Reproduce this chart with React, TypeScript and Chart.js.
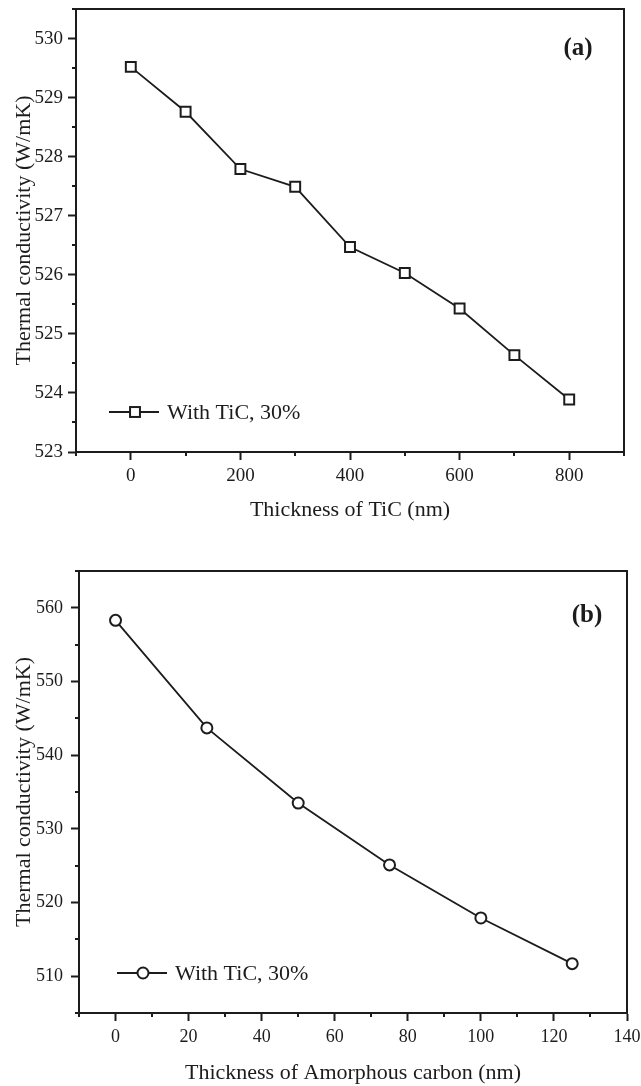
import React, { useEffect, useRef } from "react";
import { Chart, registerables } from "chart.js";

Chart.register(...registerables);

// ---------- data ----------
const thicknessTiC = [0, 100, 200, 300, 400, 500, 600, 700, 800];
const conductivityTiC = [529.52, 528.76, 527.79, 527.49, 526.47, 526.03, 525.43, 524.64, 523.89];

const thicknessCarbon = [0, 25, 50, 75, 100, 125];
const conductivityCarbon = [558.3, 543.7, 533.5, 525.1, 517.9, 511.7];

const xTicksA = [0, 200, 400, 600, 800];
const xMinorA = [-100, 100, 300, 500, 700, 900];
const yTicksA = [523, 524, 525, 526, 527, 528, 529, 530];
const yMinorA = [523.5, 524.5, 525.5, 526.5, 527.5, 528.5, 529.5, 530.5];

const xTicksB = [0, 20, 40, 60, 80, 100, 120, 140];
const xMinorB = [-10, 10, 30, 50, 70, 90, 110, 130];
const yTicksB = [510, 520, 530, 540, 550, 560];
const yMinorB = [505, 515, 525, 535, 545, 555, 565];

const seriesLabel = "With TiC, 30%";
const yTitle = "Thermal conductivity (W/mK)";
const xTitleA = "Thickness of TiC (nm)";
const xTitleB = "Thickness of Amorphous carbon (nm)";
const panelLabelA = "(a)";
const panelLabelB = "(b)";

// ---------- styles ----------
const INK = "#1c1c1c";
const FONT = "'Liberation Serif', 'Times New Roman', serif";

type PanelCfg = {
  width: number;
  height: number;
  xs: number[];
  ys: number[];
  xMin: number;
  xMax: number;
  yMin: number;
  yMax: number;
  xTicks: number[];
  xMinor: number[];
  yTicks: number[];
  yMinor: number[];
  xTitle: string;
  panelLabel: string;
  pointStyle: string;
  pointRadius: number;
  padTop: number;
  padRight: number;
  yAxisW: number;
  xAxisH: number;
  xTitlePad: number;
  yTickPad: number;
  tickFont: number;
  legend: { x: number; y: number };
  labelPos: { x: number; y: number };
};

const decorPlugin = {
  id: "decor",
  afterDraw(chart: any) {
    const cfg: PanelCfg = chart.options.plugins.decor.cfg;
    const { ctx, chartArea } = chart;
    const xs = chart.scales.x;
    const ys = chart.scales.y;
    ctx.save();
    // frame
    ctx.strokeStyle = INK;
    ctx.lineWidth = 2;
    ctx.strokeRect(chartArea.left, chartArea.top, chartArea.right - chartArea.left, chartArea.bottom - chartArea.top);
    // minor ticks
    ctx.lineWidth = 2;
    ctx.beginPath();
    cfg.xMinor.forEach((v) => {
      const px = Math.round(xs.getPixelForValue(v));
      ctx.moveTo(px, chartArea.bottom);
      ctx.lineTo(px, chartArea.bottom + 4);
    });
    cfg.yMinor.forEach((v) => {
      const py = Math.round(ys.getPixelForValue(v));
      ctx.moveTo(chartArea.left, py);
      ctx.lineTo(chartArea.left - 4, py);
    });
    ctx.stroke();

    // legend
    const lx = cfg.legend.x;
    const ly = cfg.legend.y;
    ctx.lineWidth = 1.8;
    ctx.beginPath();
    ctx.moveTo(lx, ly);
    ctx.lineTo(lx + 50, ly);
    ctx.stroke();
    ctx.fillStyle = "#ffffff";
    ctx.lineWidth = 2;
    const cx = lx + 26;
    if (cfg.pointStyle === "rect") {
      const s = cfg.pointRadius * Math.SQRT1_2;
      ctx.fillRect(cx - s, ly - s, 2 * s, 2 * s);
      ctx.strokeRect(cx - s, ly - s, 2 * s, 2 * s);
    } else {
      ctx.beginPath();
      ctx.arc(cx, ly, cfg.pointRadius, 0, Math.PI * 2);
      ctx.fill();
      ctx.stroke();
    }
    ctx.fillStyle = INK;
    ctx.font = `22px ${FONT}`;
    ctx.textBaseline = "middle";
    ctx.textAlign = "left";
    ctx.fillText(seriesLabel, lx + 58, ly + 1);

    // panel label
    ctx.font = `bold 25px ${FONT}`;
    ctx.textAlign = "center";
    ctx.fillText(cfg.panelLabel, cfg.labelPos.x, cfg.labelPos.y);
    ctx.restore();
  },
};

function makeConfig(p: PanelCfg): any {
  return {
    type: "line",
    data: {
      datasets: [
        {
          label: seriesLabel,
          data: p.xs.map((x, i) => ({ x, y: p.ys[i] })),
          borderColor: INK,
          borderWidth: 1.8,
          pointStyle: p.pointStyle,
          pointRadius: p.pointRadius,
          pointBorderWidth: 2,
          pointBackgroundColor: "#ffffff",
          pointBorderColor: INK,
          tension: 0,
          fill: false,
        },
      ],
    },
    options: {
      animation: false,
      responsive: false,
      maintainAspectRatio: false,
      layout: { padding: { top: p.padTop, right: p.padRight, left: 0, bottom: 0 } },
      plugins: {
        legend: { display: false },
        tooltip: { enabled: false },
        decor: { cfg: p },
      },
      scales: {
        x: {
          type: "linear",
          min: p.xMin,
          max: p.xMax,
          afterBuildTicks: (s: any) => {
            s.ticks = p.xTicks.map((v) => ({ value: v }));
          },
          afterFit: (s: any) => {
            s.height = p.xAxisH;
            s.paddingLeft = 0;
            s.paddingRight = 0;
            s.paddingTop = 0;
            s.paddingBottom = 0;
          },
          grid: { drawOnChartArea: false, drawTicks: true, tickLength: 8, tickWidth: 2, tickColor: INK },
          border: { display: true, color: INK, width: 2 },
          ticks: { color: INK, font: { family: FONT, size: p.tickFont }, padding: 5, maxRotation: 0, autoSkip: false },
          title: {
            display: true,
            text: p.xTitle,
            color: INK,
            font: { family: FONT, size: 22 },
            padding: { top: 0, bottom: p.xTitlePad },
          },
        },
        y: {
          type: "linear",
          min: p.yMin,
          max: p.yMax,
          afterBuildTicks: (s: any) => {
            s.ticks = p.yTicks.map((v) => ({ value: v }));
          },
          afterFit: (s: any) => {
            s.width = p.yAxisW;
            s.paddingLeft = 0;
            s.paddingRight = 0;
            s.paddingTop = 0;
            s.paddingBottom = 0;
          },
          grid: { drawOnChartArea: false, drawTicks: true, tickLength: 8, tickWidth: 2, tickColor: INK },
          border: { display: true, color: INK, width: 2 },
          ticks: { color: INK, font: { family: FONT, size: p.tickFont }, padding: p.yTickPad, autoSkip: false },
          title: {
            display: true,
            text: yTitle,
            color: INK,
            font: { family: FONT, size: 22 },
            padding: { top: 11, bottom: 0 },
          },
        },
      },
    },
    plugins: [decorPlugin],
  };
}

const panelA: PanelCfg = {
  width: 641,
  height: 540,
  xs: thicknessTiC,
  ys: conductivityTiC,
  xMin: -100,
  xMax: 900,
  yMin: 523,
  yMax: 530.5,
  xTicks: xTicksA,
  xMinor: xMinorA,
  yTicks: yTicksA,
  yMinor: yMinorA,
  xTitle: xTitleA,
  panelLabel: panelLabelA,
  pointStyle: "rect",
  pointRadius: 7,
  padTop: 8,
  padRight: 17,
  yAxisW: 76,
  xAxisH: 88,
  xTitlePad: 17,
  yTickPad: 5,
  tickFont: 19,
  legend: { x: 109, y: 412 },
  labelPos: { x: 578, y: 49 },
};

const panelB: PanelCfg = {
  width: 641,
  height: 546,
  xs: thicknessCarbon,
  ys: conductivityCarbon,
  xMin: -10,
  xMax: 140,
  yMin: 505,
  yMax: 565,
  xTicks: xTicksB,
  xMinor: xMinorB,
  yTicks: yTicksB,
  yMinor: yMinorB,
  xTitle: xTitleB,
  panelLabel: panelLabelB,
  pointStyle: "circle",
  pointRadius: 5.5,
  padTop: 31,
  padRight: 14,
  yAxisW: 79,
  xAxisH: 73,
  xTitlePad: 0,
  yTickPad: 8,
  tickFont: 18,
  legend: { x: 117, y: 433 },
  labelPos: { x: 587, y: 76 },
};

function Panel({ cfg, top }: { cfg: PanelCfg; top: number }) {
  const ref = useRef<HTMLCanvasElement | null>(null);
  useEffect(() => {
    if (!ref.current) return;
    const chart = new Chart(ref.current, makeConfig(cfg));
    return () => chart.destroy();
  }, [cfg]);
  return (
    <canvas
      ref={ref}
      width={cfg.width}
      height={cfg.height}
      style={{ position: "absolute", left: 0, top, width: cfg.width, height: cfg.height, display: "block" }}
    />
  );
}

export default function App() {
  return (
    <div style={{ position: "absolute", left: 0, top: 0, width: 641, height: 1086, background: "#ffffff" }}>
      <Panel cfg={panelA} top={0} />
      <Panel cfg={panelB} top={540} />
    </div>
  );
}
